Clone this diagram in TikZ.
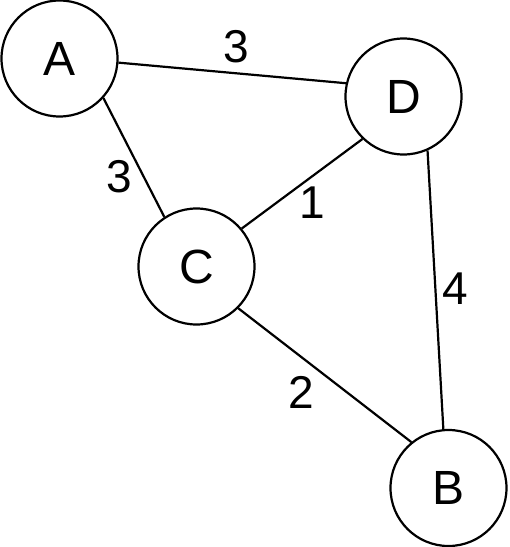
\documentclass[tikz,border=0pt]{standalone}
\usepackage{fontspec}
\setmainfont{Liberation Sans}
\begin{document}
\begin{tikzpicture}[x=1pt,y=-1pt,
  vertex/.style={circle,draw,line width=2.2pt,minimum size=116pt,inner sep=0pt,font=\fontsize{48}{50}\selectfont},
  edge/.style={line width=2.2pt},
  wlabel/.style={inner sep=0pt,font=\fontsize{46}{48}\selectfont}]
\useasboundingbox (0,0) rectangle (510,547);
\node[vertex] (A) at (59.5,58.5) {A};
\node[vertex] (D) at (403.5,96.5) {D};
\node[vertex] (C) at (196.5,266.5) {C};
\node[vertex] (B) at (448.5,488) {B};
\draw[edge] (A.-4) -- (D.167);
\draw[edge] (A.-42) -- (C.123);
\draw[edge] (C.40) -- (D.-134);
\draw[edge] (C.-45) -- (B.129);
\draw[edge] (D.-66.6) -- (B.95.4);
\node[wlabel] (l1) at (236.5,46.5) {3};
\node[wlabel] (l2) at (119,176.5) {3};
\node[wlabel] (l3) at (312,202.5) {1};
\node[wlabel] (l4) at (455.5,288.5) {4};
\node[wlabel] (l5) at (301.5,392.5) {2};
\end{tikzpicture}
\end{document}
